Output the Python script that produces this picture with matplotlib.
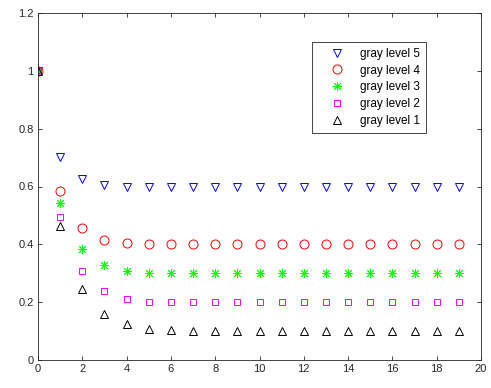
import matplotlib.pyplot as plt

plt.rcParams['font.family'] = ['Liberation Sans', 'DejaVu Sans']

x = list(range(20))
level5 = [1.0, 0.703, 0.626, 0.605, 0.600, 0.600] + [0.6] * 14
level4 = [1.0, 0.585, 0.456, 0.415, 0.405, 0.401] + [0.4] * 14
level3 = [1.0, 0.544, 0.384, 0.329, 0.308, 0.302] + [0.3] * 14
level2 = [1.0, 0.494, 0.307, 0.237, 0.212, 0.202] + [0.2] * 14
level1 = [1.0, 0.465, 0.247, 0.159, 0.125, 0.108, 0.104, 0.102, 0.101] + [0.1] * 11
labels = ['gray level 5', 'gray level 4', 'gray level 3', 'gray level 2', 'gray level 1']

fig = plt.figure(figsize=(4.91, 3.88), dpi=100)
ax = fig.add_axes([38 / 491, 28 / 388, 443 / 491, 347 / 388])

# matlab-like markers: '*' there is an 8 ray asterisk
series = [(level5, 'v', '#0000ff', 6), (level4, 'o', '#ff0000', 6.5), (level3, (8, 2, 0), '#00ff00', 6.5),
          (level2, 's', '#ff00ff', 5), (level1, '^', '#000000', 6)]
handles = []
for (y, m, c, ms), lab in zip(series, labels):
    h, = ax.plot(x, y, linestyle='none', marker=m, markersize=ms, markerfacecolor='none',
                 markeredgecolor=c, markeredgewidth=0.7, label=lab)
    handles.append(h)

ax.set_xlim(0, 20)
ax.set_ylim(0, 1.2)
ax.set_xticks(range(0, 21, 2))
ax.set_yticks([0, 0.2, 0.4, 0.6, 0.8, 1.0, 1.2])
ax.set_yticklabels(['0', '0.2', '0.4', '0.6', '0.8', '1', '1.2'])
ax.tick_params(direction='in', top=True, right=True, length=3, width=0.6,
               labelsize=8, colors='#262626', pad=3)
for s in ax.spines.values():
    s.set_color('#262626')
    s.set_linewidth(0.6)

leg = ax.legend(handles=handles, loc='upper left', bbox_to_anchor=(312 / 491, 346 / 388),
                bbox_transform=fig.transFigure, fontsize=8.5, fancybox=False,
                framealpha=1, edgecolor='#262626', borderpad=0.5, labelspacing=0.4,
                handlelength=3.2, handletextpad=0.4, borderaxespad=0)
leg.get_frame().set_linewidth(0.6)

fig.savefig('out.png', dpi=100)
